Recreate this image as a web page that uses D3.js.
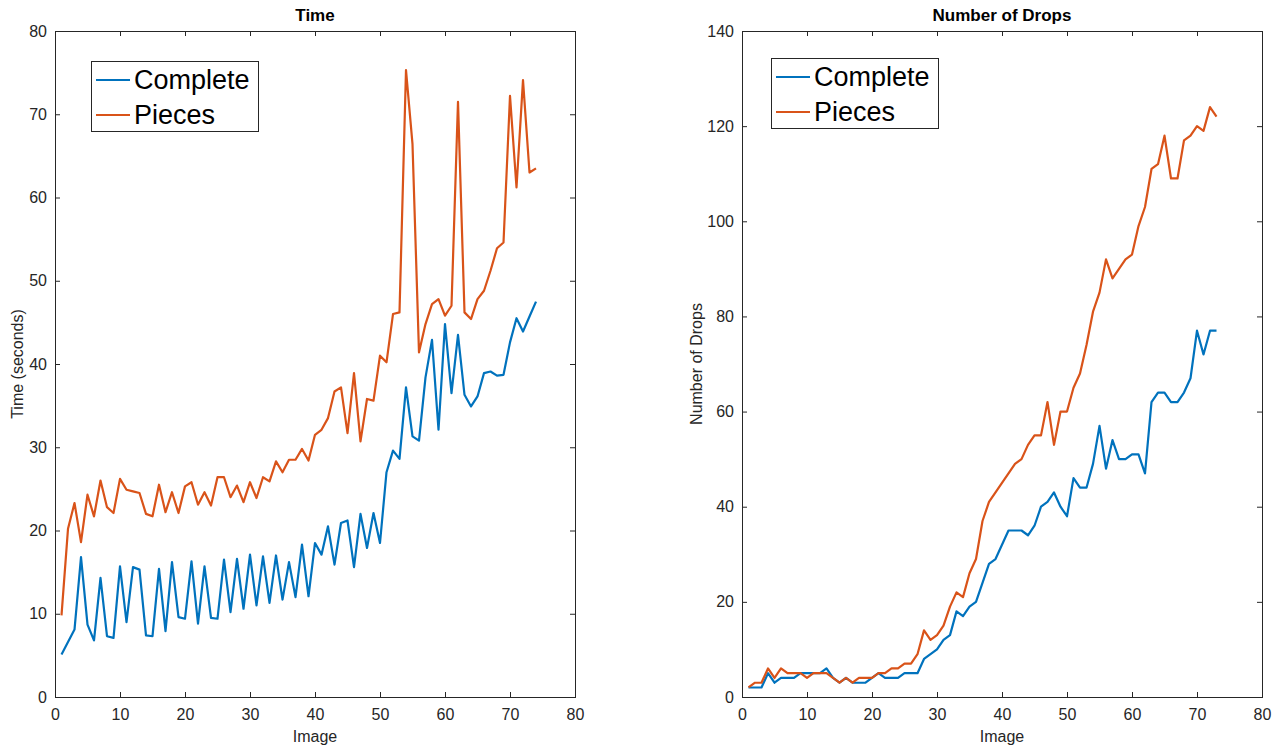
<!DOCTYPE html>
<html>
<head>
<meta charset="utf-8">
<script src="https://cdn.jsdelivr.net/npm/d3@7"></script>
<style>
  body { margin: 0; background: #fff; }
  svg { display: block; font-family: "Liberation Sans", Helvetica, Arial, sans-serif; }
  .tick text { fill: #262626; font-size: 16px; }
  .tick line { stroke: #262626; }
  .axis-label { fill: #262626; font-size: 16px; }
  .title { fill: #000; font-size: 17px; font-weight: bold; }
  .legend text { fill: #000; font-size: 27px; }
</style>
</head>
<body>
<div id="chart"></div>
<script>
// Time per image (seconds)
var timeComplete = [
  5.1, 6.6, 8.1, 16.8, 8.7, 6.8, 14.3, 7.3, 7.1, 15.7,
  9.0, 15.6, 15.3, 7.4, 7.3, 15.4, 7.9, 16.2, 9.6, 9.4,
  16.3, 8.8, 15.7, 9.5, 9.4, 16.5, 10.2, 16.6, 10.6, 17.1,
  11.0, 16.9, 11.3, 17.0, 11.7, 16.2, 12.0, 18.3, 12.1, 18.5,
  17.1, 20.5, 15.9, 20.9, 21.2, 15.6, 22.0, 17.9, 22.1, 18.5,
  27.0, 29.6, 28.6, 37.2, 31.3, 30.8, 38.4, 42.9, 32.1, 44.8,
  36.5, 43.5, 36.3, 34.9, 36.1, 38.9, 39.1, 38.6, 38.7, 42.6,
  45.5, 43.9, 45.7, 47.5
];
var timePieces = [
  9.8, 20.2, 23.3, 18.6, 24.3, 21.7, 26.0, 22.8, 22.1, 26.2,
  24.9, 24.7, 24.5, 22.0, 21.7, 25.5, 22.2, 24.6, 22.1, 25.3,
  25.8, 23.1, 24.6, 23.0, 26.4, 26.4, 24.0, 25.4, 23.4, 25.8,
  23.9, 26.4, 25.9, 28.3, 27.0, 28.5, 28.5, 29.8, 28.4, 31.5,
  32.1, 33.5, 36.7, 37.2, 31.7, 38.9, 30.7, 35.8, 35.6, 41.0,
  40.2, 46.0, 46.2, 75.3, 66.4, 41.4, 44.8, 47.2, 47.8, 45.8,
  47.0, 71.5, 46.2, 45.4, 47.8, 48.8, 51.2, 53.9, 54.6, 72.2,
  61.2, 74.1, 63.0, 63.5
];

// Number of drops per image
var dropsComplete = [
  2, 2, 2, 5, 3, 4, 4, 4, 5, 5,
  5, 5, 6, 4, 3, 4, 3, 3, 3, 4,
  5, 4, 4, 4, 5, 5, 5, 8, 9, 10,
  12, 13, 18, 17, 19, 20, 24, 28, 29, 32,
  35, 35, 35, 34, 36, 40, 41, 43, 40, 38,
  46, 44, 44, 49, 57, 48, 54, 50, 50, 51,
  51, 47, 62, 64, 64, 62, 62, 64, 67, 77,
  72, 77, 77
];
var dropsPieces = [
  2, 3, 3, 6, 4, 6, 5, 5, 5, 4,
  5, 5, 5, 4, 3, 4, 3, 4, 4, 4,
  5, 5, 6, 6, 7, 7, 9, 14, 12, 13,
  15, 19, 22, 21, 26, 29, 37, 41, 43, 45,
  47, 49, 50, 53, 55, 55, 62, 53, 60, 60,
  65, 68, 74, 81, 85, 92, 88, 90, 92, 93,
  99, 103, 111, 112, 118, 109, 109, 117, 118, 120,
  119, 124, 122
];

var seriesNames = ['Complete', 'Pieces'];
var seriesColors = ['#0072BD', '#D95319'];

var xTicks = [0, 10, 20, 30, 40, 50, 60, 70, 80];
var timeTicks = [0, 10, 20, 30, 40, 50, 60, 70, 80];
var dropsTicks = [0, 20, 40, 60, 80, 100, 120, 140];

var svg = d3.select('#chart').append('svg').attr('width', 1285).attr('height', 749);

var plot = function plot(opts) {
  var left = opts.left, top = 31, width = 520, height = 666;

  var xScale = d3.scaleLinear().domain([0, 80]).range([0, width]);
  var yScale = d3.scaleLinear().domain([0, opts.yMax]).range([height, 0]);

  var g = svg.append('g').attr('transform', 'translate(' + left + ',' + top + ')');

  // axes with inward ticks, on all four sides
  g.append('g').attr('transform', 'translate(0,' + height + ')')
    .call(d3.axisBottom(xScale).tickValues(xTicks).tickSizeInner(-5).tickSizeOuter(0).tickPadding(12));
  g.append('g')
    .call(d3.axisTop(xScale).tickValues(xTicks).tickSizeInner(-5).tickSizeOuter(0).tickFormat(''));
  g.append('g')
    .call(d3.axisLeft(yScale).tickValues(opts.yTicks).tickSizeInner(-5).tickSizeOuter(0).tickPadding(8));
  g.append('g').attr('transform', 'translate(' + width + ',0)')
    .call(d3.axisRight(yScale).tickValues(opts.yTicks).tickSizeInner(-5).tickSizeOuter(0).tickFormat(''));
  g.selectAll('.domain').remove();
  g.selectAll('.tick text').attr('font-family', null).attr('font-size', null);

  g.append('rect').attr('x', 0.5).attr('y', 0.5).attr('width', width).attr('height', height)
    .attr('fill', 'none').attr('stroke', '#262626').attr('stroke-width', 1);

  var line = d3.line()
    .x(function (d, i) { return xScale(i + 1); })
    .y(function (d) { return yScale(d); });

  opts.series.forEach(function (s, k) {
    g.append('path').datum(s)
      .attr('fill', 'none')
      .attr('stroke', seriesColors[k])
      .attr('stroke-width', 2.2)
      .attr('stroke-linejoin', 'round')
      .attr('d', line);
  });

  g.append('text').classed('title', true).text(opts.title)
    .attr('x', width / 2).attr('y', -10).attr('text-anchor', 'middle');
  g.append('text').classed('axis-label', true).text('Image')
    .attr('x', width / 2).attr('y', height + 45).attr('text-anchor', 'middle');
  g.append('text').classed('axis-label', true).text(opts.yLabel)
    .attr('transform', 'translate(' + opts.yLabelX + ',' + (height / 2) + ') rotate(-90)')
    .attr('text-anchor', 'middle');

  var legend = g.append('g').classed('legend', true)
    .attr('transform', 'translate(' + opts.legendX + ',' + opts.legendY + ')');
  legend.append('rect').attr('x', 0.5).attr('y', 0.5).attr('width', 167).attr('height', 70)
    .attr('fill', '#fff').attr('stroke', '#262626').attr('stroke-width', 1);
  seriesNames.forEach(function (name, k) {
    var yy = 19 + k * 35;
    legend.append('line').attr('x1', 5).attr('x2', 39).attr('y1', yy).attr('y2', yy)
      .attr('stroke', seriesColors[k]).attr('stroke-width', 2);
    legend.append('text').text(name).attr('x', 43).attr('y', yy).attr('dy', '0.35em');
  });
};

plot({
  left: 55, yMax: 80, yTicks: timeTicks, series: [timeComplete, timePieces],
  title: 'Time', yLabel: 'Time (seconds)', yLabelX: -32,
  legendX: 36, legendY: 30
});

plot({
  left: 742, yMax: 140, yTicks: dropsTicks, series: [dropsComplete, dropsPieces],
  title: 'Number of Drops', yLabel: 'Number of Drops', yLabelX: -40,
  legendX: 29, legendY: 27
});
</script>
</body>
</html>
